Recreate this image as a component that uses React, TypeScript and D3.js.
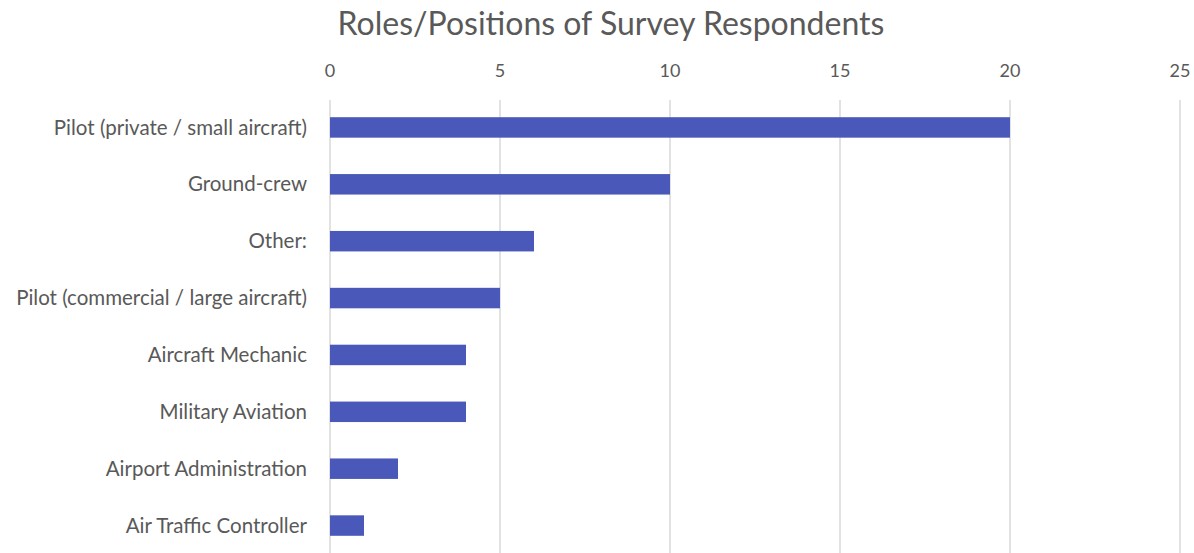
import React from "react";
import * as d3 from "d3";

const categories = [
  "Pilot (private / small aircraft)",
  "Ground-crew",
  "Other:",
  "Pilot (commercial / large aircraft)",
  "Aircraft Mechanic",
  "Military Aviation",
  "Airport Administration",
  "Air Traffic Controller",
];
const values = [20, 10, 6, 5, 4, 4, 2, 1];
const tickValues = [0, 5, 10, 15, 20, 25];
const title = "Roles/Positions of Survey Respondents";

const W = 1194;
const H = 553;

export default function App() {
  const x = d3.scaleLinear().domain([0, 25]).range([330, 1180]);
  const y = d3
    .scaleBand<string>()
    .domain(categories)
    .range([99, 554])
    .paddingInner(0.64)
    .paddingOuter(0.32);
  const font = "Lato, 'Open Sans', sans-serif";
  return (
    <svg
      width={W}
      height={H}
      style={{ position: "absolute", left: 0, top: 0, background: "#fff" }}
      fontFamily={font}
    >
      <text x={611} y={35} textAnchor="middle" fontSize={32} fill="#595959">
        {title}
      </text>
      {tickValues.map((t) => (
        <g key={t}>
          <line x1={x(t)} x2={x(t)} y1={100} y2={H} stroke="#d9d9d9" strokeWidth={1.5} />
          <text x={x(t)} y={77} textAnchor="middle" fontSize={18} fill="#595959">
            {t}
          </text>
        </g>
      ))}
      {categories.map((c, i) => (
        <g key={c}>
          <rect
            x={x(0)}
            y={y(c)!}
            width={x(values[i]) - x(0)}
            height={y.bandwidth()}
            fill="#4a58b9"
          />
          <text
            x={307}
            y={y(c)! + y.bandwidth() / 2}
            dy="0.35em"
            textAnchor="end"
            fontSize={20.5}
            fill="#595959"
          >
            {c}
          </text>
        </g>
      ))}
    </svg>
  );
}
